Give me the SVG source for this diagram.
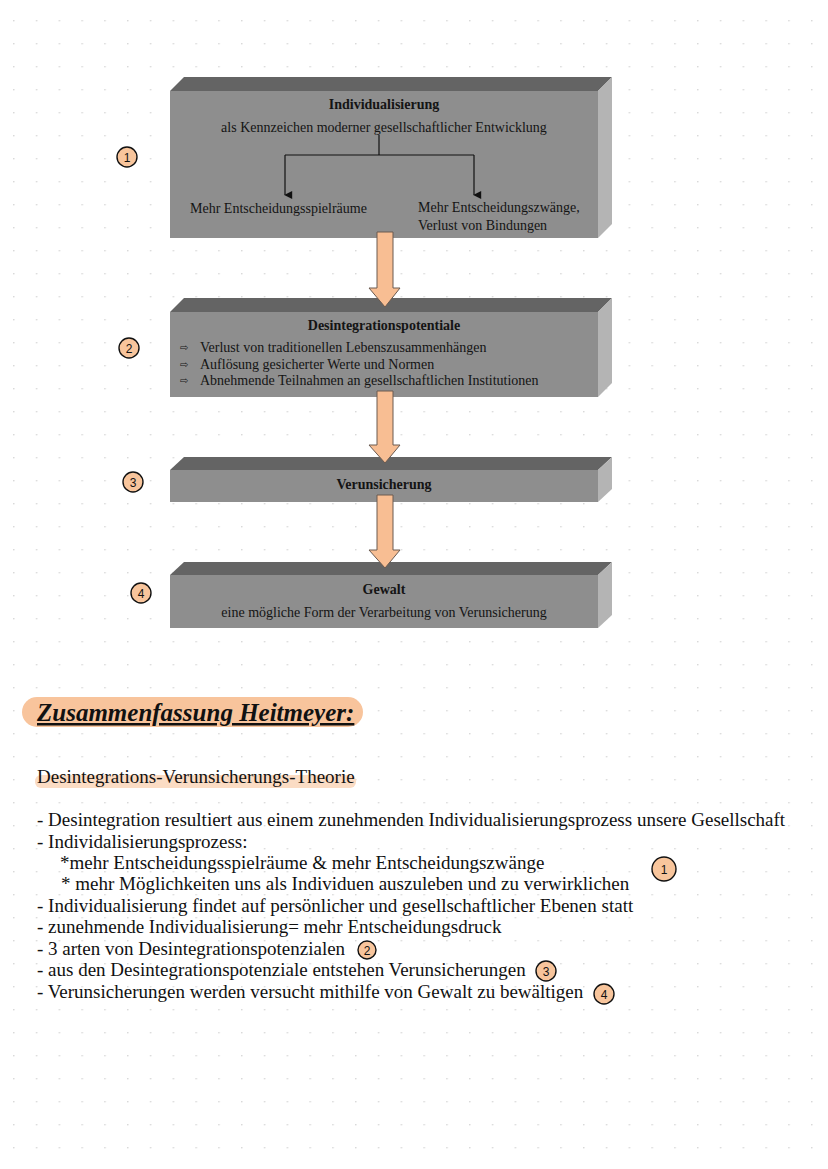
<svg xmlns="http://www.w3.org/2000/svg" width="828" height="1169" viewBox="0 0 828 1169">
<defs>
<pattern id="dots" x="13" y="20" width="22.8" height="23" patternUnits="userSpaceOnUse">
<circle cx="0.8" cy="0.8" r="0.8" fill="#d0d0d0"/>
</pattern>
<marker id="tri" viewBox="0 0 10 10" refX="5" refY="9" markerWidth="8" markerHeight="9" orient="auto-start-reverse" markerUnits="userSpaceOnUse">
<path d="M0,0 L10,0 L5,10 Z" fill="#111"/>
</marker>
</defs>
<style>
.front{fill:#8e8e8e;}
.top{fill:#646464;}
.side{fill:#b4b4b4;}
.bt{font-family:"Liberation Serif",serif;font-size:14px;fill:#141414;}
.bb{font-family:"Liberation Serif",serif;font-size:14px;font-weight:bold;fill:#141414;}
.bul{font-family:"DejaVu Sans",sans-serif;font-size:10px;fill:#141414;}
.arrow{fill:#f8be93;stroke:#6a5a50;stroke-width:1;}
.num{fill:#f8c59c;stroke:#111;stroke-width:1.4;}
.numt{font-family:"Liberation Sans",sans-serif;font-size:12px;fill:#111;text-anchor:middle;}
.tx{font-family:"Liberation Serif",serif;font-size:19px;fill:#111;}
</style>
<rect width="828" height="1169" fill="#ffffff"/>
<rect width="828" height="1169" fill="url(#dots)"/>

<g id="box1">
<polygon class="top" points="170,91 184,77 612,77 598,91"/>
<polygon class="side" points="598,91 612,77 612,224 598,238"/>
<rect class="front" x="170" y="91" width="428" height="147"/>
<text class="bb" x="384" y="109" text-anchor="middle">Individualisierung</text>
<text class="bt" x="384" y="132" text-anchor="middle">als Kennzeichen moderner gesellschaftlicher Entwicklung</text>
<g stroke="#111" stroke-width="1.2" fill="none">
<line x1="379" y1="135" x2="379" y2="155"/>
<line x1="285" y1="155" x2="474" y2="155"/>
<line x1="285" y1="155" x2="285" y2="195" marker-end="url(#tri)"/>
<line x1="474" y1="155" x2="474" y2="195" marker-end="url(#tri)"/>
</g>
<text class="bt" x="190" y="213">Mehr Entscheidungsspielräume</text>
<text class="bt" x="418" y="212">Mehr Entscheidungszwänge,</text>
<text class="bt" x="418" y="230">Verlust von Bindungen</text>
</g>

<g id="box2">
<polygon class="top" points="170,312 184,298 612,298 598,312"/>
<polygon class="side" points="598,312 612,298 612,383 598,397"/>
<rect class="front" x="170" y="312" width="428" height="85"/>
<text class="bb" x="384" y="330" text-anchor="middle">Desintegrationspotentiale</text>
<text class="bul" x="180" y="351">⇨</text>
<text class="bt" x="200" y="352">Verlust von traditionellen Lebenszusammenhängen</text>
<text class="bul" x="180" y="368">⇨</text>
<text class="bt" x="200" y="369">Auflösung gesicherter Werte und Normen</text>
<text class="bul" x="180" y="384">⇨</text>
<text class="bt" x="200" y="385">Abnehmende Teilnahmen an gesellschaftlichen Institutionen</text>
</g>

<g id="box3">
<polygon class="top" points="170,470 184,457 612,457 598,470"/>
<polygon class="side" points="598,470 612,457 612,489 598,502"/>
<rect class="front" x="170" y="470" width="428" height="32"/>
<text class="bb" x="384" y="489" text-anchor="middle">Verunsicherung</text>
</g>

<g id="box4">
<polygon class="top" points="170,575 184,562 612,562 598,575"/>
<polygon class="side" points="598,575 612,562 612,615 598,628"/>
<rect class="front" x="170" y="575" width="428" height="53"/>
<text class="bb" x="384" y="594" text-anchor="middle">Gewalt</text>
<text class="bt" x="384" y="617" text-anchor="middle">eine mögliche Form der Verarbeitung von Verunsicherung</text>
</g>

<g id="connectors">
<path class="arrow" d="M377,232 L393,232 L393,288 L400,288 L385,307 L369,288 L377,288 Z"/>
<path class="arrow" d="M377,391 L393,391 L393,445 L400,445 L385,463 L369,445 L377,445 Z"/>
<path class="arrow" d="M377,495 L393,495 L393,550 L400,550 L385,568 L369,550 L377,550 Z"/>
</g>

<g id="markers">
<circle class="num" cx="127" cy="157" r="10"/><text class="numt" x="127" y="161.5">1</text>
<circle class="num" cx="129" cy="348" r="10"/><text class="numt" x="129" y="352.5">2</text>
<circle class="num" cx="133" cy="482" r="10"/><text class="numt" x="133" y="486.5">3</text>
<circle class="num" cx="141" cy="593" r="10"/><text class="numt" x="141" y="597.5">4</text>
</g>

<g id="summary">
<rect x="22" y="697" width="341" height="30" rx="15" fill="#f8c49c"/>
<text x="37" y="721" font-family="Liberation Serif, serif" font-size="25" font-weight="bold" font-style="italic" text-decoration="underline" fill="#111">Zusammenfassung Heitmeyer:</text>
<rect x="35" y="775" width="321" height="13" rx="6" fill="#fbdcc4"/>
<text class="tx" x="37" y="783">Desintegrations-Verunsicherungs-Theorie</text>
<text class="tx" x="37" y="826">- Desintegration resultiert aus einem zunehmenden Individualisierungsprozess unsere Gesellschaft</text>
<text class="tx" x="37" y="848">- Individalisierungsprozess:</text>
<text class="tx" x="60" y="869">*mehr Entscheidungsspielräume &amp; mehr Entscheidungszwänge</text>
<text class="tx" x="61" y="890">* mehr Möglichkeiten uns als Individuen auszuleben und zu verwirklichen</text>
<text class="tx" x="37" y="912">- Individualisierung findet auf persönlicher und gesellschaftlicher Ebenen statt</text>
<text class="tx" x="37" y="933">- zunehmende Individualisierung= mehr Entscheidungsdruck</text>
<text class="tx" x="37" y="955">- 3 arten von Desintegrationspotenzialen</text>
<text class="tx" x="37" y="976">- aus den Desintegrationspotenziale entstehen Verunsicherungen</text>
<text class="tx" x="37" y="998">- Verunsicherungen werden versucht mithilfe von Gewalt zu bewältigen</text>
<circle class="num" cx="664" cy="869" r="12"/><text class="numt" x="664" y="873.5">1</text>
<circle class="num" cx="367" cy="950" r="9"/><text class="numt" x="367" y="954.5">2</text>
<circle class="num" cx="546" cy="971" r="10"/><text class="numt" x="546" y="975.5">3</text>
<circle class="num" cx="604" cy="994" r="10"/><text class="numt" x="604" y="998.5">4</text>
</g>
</svg>
